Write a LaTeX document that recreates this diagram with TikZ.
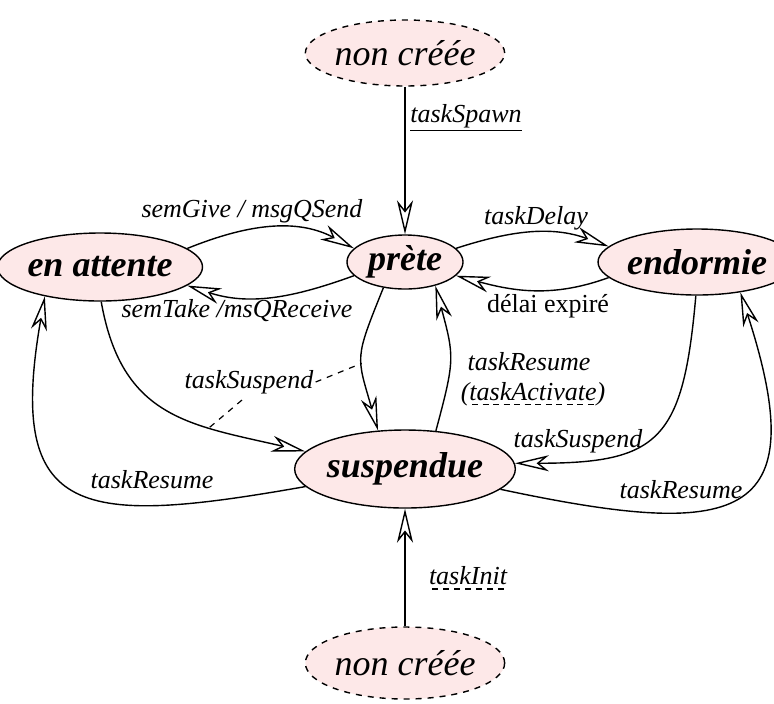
\documentclass[tikz,border=0pt]{standalone}
\usepackage{fontspec}
\setmainfont{Liberation Serif}
\usetikzlibrary{arrows.meta,shapes.geometric}
\definecolor{etatrose}{RGB}{253,232,232}
% dashed underline
\newcommand{\tirets}[1]{\setbox0=\hbox{#1}\rlap{\raisebox{-2.5pt}{\hbox to \wd0{\xleaders\hbox to 5pt{\hss\vrule width 3pt height 0.6pt\hss}\hfill}}}\box0}
\tikzset{
    etat/.style={ellipse, draw, fill=etatrose, inner sep=0pt, line width=0.7pt,
        font=\fontsize{18}{20}\selectfont\bfseries\itshape},
    horsetat/.style={etat, dashed, font=\fontsize{18}{20}\selectfont\itshape},
    trans/.style={-{Stealth[open,length=17pt,width=8pt,inset=5pt]}, line width=0.7pt},
    lbl/.style={font=\fontsize{13}{15}\selectfont\itshape, inner sep=1pt},
}
\begin{document}
\begin{tikzpicture}[x=0.5pt,y=0.5pt]
    \useasboundingbox (0,0) rectangle (774,-703);

    % Etats
    \node[horsetat, minimum width=90pt, minimum height=33pt] (nc1) at (405,-53) {non créée};
    \node[etat, minimum width=88pt, minimum height=34pt] (att) at (100,-267) {en attente};
    \node[etat, minimum width=58pt, minimum height=27pt] (pret) at (405,-262) {prète};
    \node[etat, minimum width=75pt, minimum height=33pt] (endo) at (697,-262) {endormie};
    \node[etat, minimum width=98pt, minimum height=39pt] (susp) at (405,-469) {suspendue};
    \node[horsetat, minimum width=88pt, minimum height=36pt] (nc2) at (405,-663) {non créée};

    % Creation
    \draw[trans] (nc1) -- (pret);
    \draw[trans] (nc2) -- (susp);
    \node[lbl] (lSpawn) at (466,-118) {\underline{taskSpawn}};
    \node[lbl] (lInit) at (468,-578) {\tirets{taskInit}};

    % en attente <-> prete
    \draw[trans] (att.12) to[out=22,in=152] (pret.165);
    \draw[trans] (pret.195) to[out=200,in=-18] (att.-12);
    \node[lbl] (lGive) at (252,-211) {semGive / msgQSend};
    \node[lbl] (lTake) at (237,-311) {semTake /msQReceive};

    % prete <-> endormie
    \draw[trans] (pret.15) to[out=18,in=160] (endo.170);
    \draw[trans] (endo.190) to[out=200,in=-15] (pret.-15);
    \node[lbl] (lDelay) at (536,-218) {taskDelay};
    \node[lbl, font=\fontsize{13}{15}\selectfont] (lExp) at (548,-306) {délai expiré};

    % prete <-> suspendue
    \draw[trans] (pret.-130) to[out=-112,in=106,looseness=1.4] coordinate[pos=0.55] (e6) (susp.125);
    \draw[trans] (susp.51) to[out=75,in=-75,looseness=1.3] (pret.-38);
    \node[lbl] (lRes1) at (529,-362) {taskResume};
    \node[lbl] (lAct) at (533,-394) {(\tirets{taskActivate})};

    % en attente <-> suspendue
    \draw[trans] (att.-88) to[out=-80,in=167,looseness=1.2] coordinate[pos=0.68] (e8) (susp.170);
    \draw[trans] (susp.190) to[out=190,in=-100,looseness=1.8] (att.-152);
    \node[lbl] (lSusp1) at (249,-382) {taskSuspend};
    \draw[dashed, line width=0.6pt] (lSusp1.east) -- (e6);
    \draw[dashed, line width=0.6pt, shorten <=3pt] (lSusp1.-100) -- (e8);
    \node[lbl] (lRes2) at (152,-480) {taskResume};

    % endormie <-> suspendue
    \draw[trans] (endo.-92) to[out=-95,in=0,looseness=1.5] (susp.3);
    \draw[trans] (susp.-12) to[out=-12,in=-72,looseness=2] (endo.-35);
    \node[lbl] (lSusp2) at (578,-441) {taskSuspend};
    \node[lbl] (lRes3) at (681,-490) {taskResume};
\end{tikzpicture}
\end{document}
